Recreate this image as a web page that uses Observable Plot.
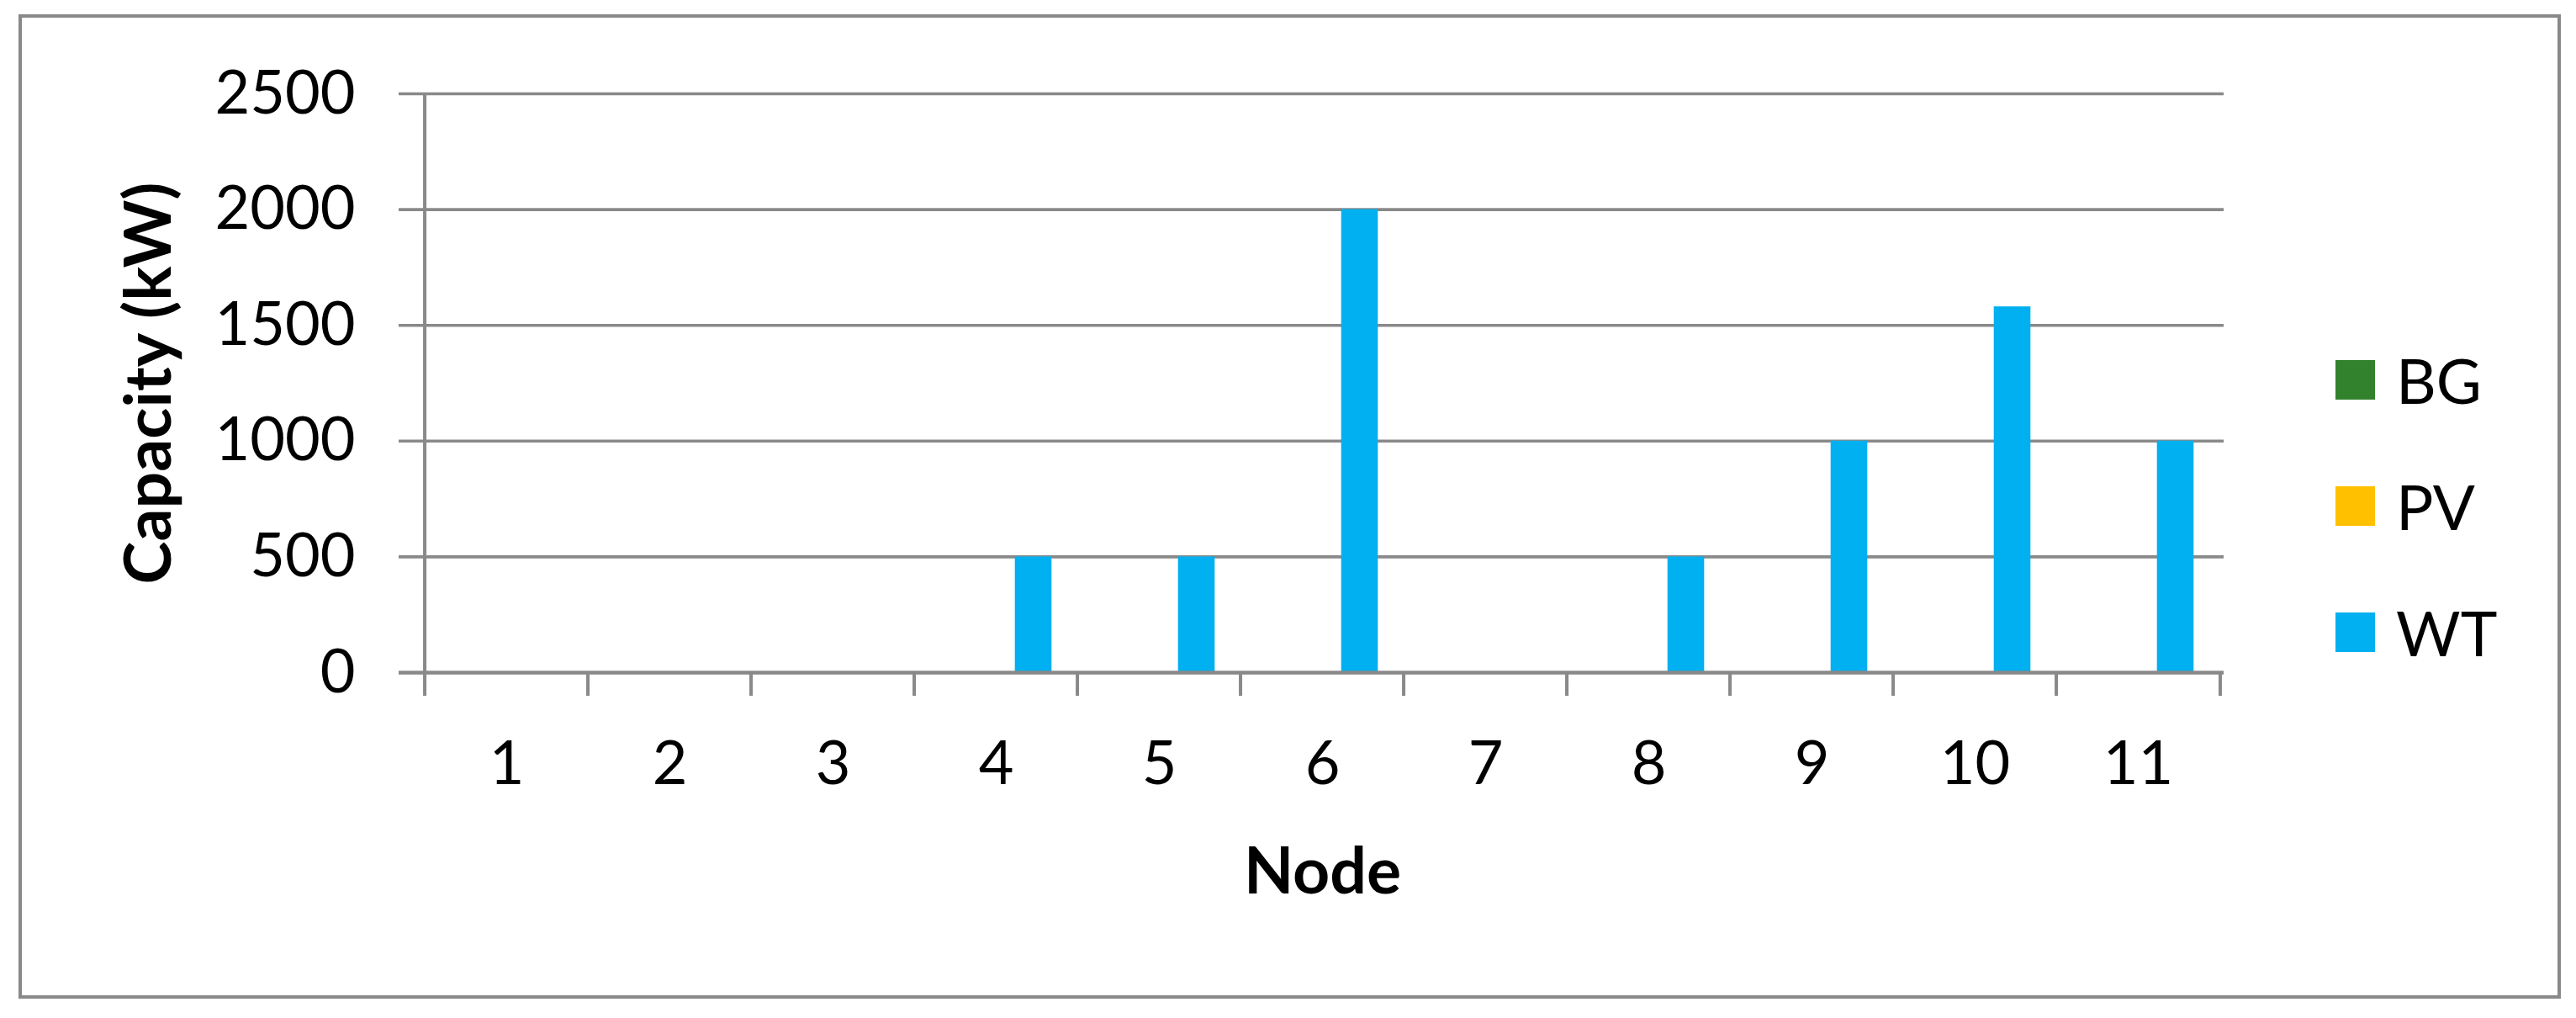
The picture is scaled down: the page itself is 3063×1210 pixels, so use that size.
<!DOCTYPE html>
<html>
<head>
<meta charset="utf-8">
<script src="https://cdn.jsdelivr.net/npm/d3@7"></script>
<script src="https://cdn.jsdelivr.net/npm/@observablehq/plot@0.6"></script>
<style>
  body { margin: 0; background: #fff; }
  #wrap { position: relative; width: 3063px; height: 1210px; font-family: Lato, "Open Sans", sans-serif; background: #fff; }
  #frame { position: absolute; left: 22px; top: 17px; width: 3023px; height: 1170px; border: 4px solid #898989; box-sizing: border-box; pointer-events: none; }
  #chart { position: absolute; left: 0; top: 0; }
  #legend { position: absolute; left: 2777px; top: 376px; }
  .item { display: flex; align-items: center; height: 150px; font-size: 74px; color: #000; }
  .sw { width: 47px; height: 47px; margin-right: 25px; }
  g[aria-label="y-axis label"] text, g[aria-label="x-axis label"] text { font-weight: bold; font-size: 77px; }
</style>
</head>
<body>
<div id="wrap">
  <div id="chart"></div>
  <div id="frame"></div>
  <div id="legend"></div>
</div>
<script>
// ---- data ----
const nodes = ["1", "2", "3", "4", "5", "6", "7", "8", "9", "10", "11"];
const seriesNames = ["BG", "PV", "WT"];
const bgValues = [0, 0, 0, 0, 0, 0, 0, 0, 0, 0, 0];
const pvValues = [0, 0, 0, 0, 0, 0, 0, 0, 0, 0, 0];
const wtValues = [0, 0, 0, 500, 500, 2000, 0, 500, 1000, 1580, 1000];
const yTicks = [0, 500, 1000, 1500, 2000, 2500];
const seriesColors = ["#32822D", "#FFC000", "#00B0F0"];

// ---- layout ----
const W = 3063, H = 1210;
const mL = 500, mR = 419, mT = 111, mB = 411;
const plotW = W - mL - mR, plotH = H - mT - mB;
const bw = plotW / nodes.length;
const barW = 44.5;
const gap = (bw - seriesNames.length * barW) / 2;
const gray = "#898989";
const tickLen = 28;

const valuesBySeries = [bgValues, pvValues, wtValues];
const rows = seriesNames.map((s, i) => nodes.map((n, j) => ({node: n, series: s, value: valuesBySeries[i][j]})));

const barMarks = seriesNames.map((s, i) =>
  Plot.barY(rows[i], {
    x: "node", y: "value", fill: seriesColors[i],
    insetLeft: gap + i * barW,
    insetRight: bw - gap - (i + 1) * barW
  })
);

const chart = Plot.plot({
  width: W, height: H,
  marginLeft: mL, marginRight: mR, marginTop: mT, marginBottom: mB,
  style: {fontFamily: "Lato, 'Open Sans', sans-serif", fontSize: "72px", color: "#000", background: "transparent"},
  x: {domain: nodes, padding: 0},
  y: {domain: [0, 2500]},
  marks: [
    Plot.ruleY(yTicks.filter(t => t > 0), {stroke: gray, strokeWidth: 3.6, insetLeft: -26}),
    ...barMarks,
    Plot.ruleY([0], {stroke: gray, strokeWidth: 4.5, insetLeft: -26}),
    Plot.ruleX([nodes[0]], {x: d => d, dx: -bw / 2, stroke: gray, strokeWidth: 4, insetBottom: -tickLen}),
    Plot.ruleX(nodes.slice(1), {x: d => d, dx: -bw / 2, stroke: gray, strokeWidth: 4, insetTop: plotH, insetBottom: -tickLen}),
    Plot.ruleX([nodes[nodes.length - 1]], {x: d => d, dx: bw / 2, stroke: gray, strokeWidth: 4, insetTop: plotH, insetBottom: -tickLen}),
    Plot.axisY({ticks: yTicks, tickFormat: d => String(d), tickSize: 0, tickPadding: 78, fontSize: 72, label: "Capacity (kW)", labelAnchor: "center", labelOffset: 352, labelArrow: "none"}),
    Plot.axisX({tickSize: 0, tickPadding: 81, fontSize: 72, label: "Node", labelAnchor: "center", labelOffset: 262, labelArrow: "none"})
  ]
});
document.getElementById("chart").appendChild(chart);

// ---- legend ----
const legend = document.getElementById("legend");
seriesNames.forEach((s, i) => {
  const item = document.createElement("div");
  item.className = "item";
  const sw = document.createElement("div");
  sw.className = "sw";
  sw.style.background = seriesColors[i];
  const t = document.createElement("span");
  t.textContent = s;
  item.appendChild(sw);
  item.appendChild(t);
  legend.appendChild(item);
});
</script>
</body>
</html>
